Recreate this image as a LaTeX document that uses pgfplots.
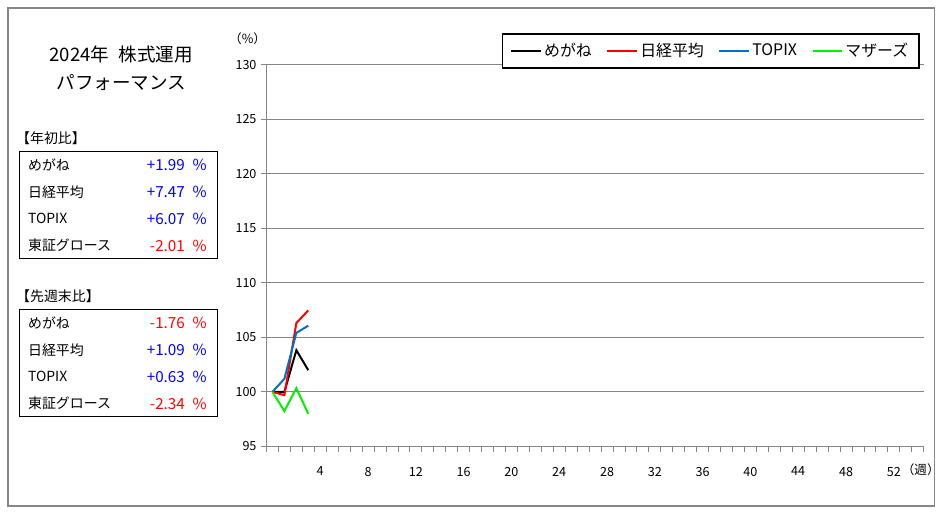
\documentclass[border=0pt]{standalone}
\usepackage{fontspec}
\setmainfont{Noto Sans CJK JP}
\usepackage{pgfplots}
\pgfplotsset{compat=1.18}
\definecolor{gridgray}{RGB}{134,134,134}
\definecolor{topixblue}{RGB}{0,112,192}
\definecolor{valblue}{RGB}{0,0,255}
\definecolor{valred}{RGB}{255,0,0}
\definecolor{lime}{RGB}{0,240,0}

\begin{document}
\begin{tikzpicture}
\begin{scope}[x=0.75pt,y=0.75pt]
\path (0,0) rectangle (944,518);
\draw[gridgray, line width=1.2pt] (8,9) rectangle (940,510);

% title and summary boxes
\node[font=\fontsize{14}{16}\selectfont] at (122,463) {2024年\hspace{0.5em}株式運用};
\node[font=\fontsize{14}{16}\selectfont] at (122,435) {パフォーマンス};

\begin{scope}[font=\fontsize{10.5}{12}\selectfont]
\node[anchor=west, inner sep=0pt] at (16,379) {【年初比】};
\draw[line width=0.9pt] (20,366) rectangle (219,258);
\node[anchor=west, inner sep=0pt] at (28,352) {めがね};
\node[anchor=west, inner sep=0pt] at (28,325) {日経平均};
\node[anchor=west, inner sep=0pt] at (28,298) {TOPIX};
\node[anchor=west, inner sep=0pt] at (28,271) {東証グロース};
\node[anchor=west, inner sep=0pt] at (16,220) {【先週末比】};
\draw[line width=0.9pt] (20,207) rectangle (219,99);
\node[anchor=west, inner sep=0pt] at (28,193) {めがね};
\node[anchor=west, inner sep=0pt] at (28,166) {日経平均};
\node[anchor=west, inner sep=0pt] at (28,139) {TOPIX};
\node[anchor=west, inner sep=0pt] at (28,112) {東証グロース};
\end{scope}

\begin{scope}[font=\fontsize{11.5}{13}\selectfont, anchor=east, inner sep=0pt]
\node[valblue] at (208,352) {+1.99\hspace{0.5em}\%};
\node[valblue] at (208,325) {+7.47\hspace{0.5em}\%};
\node[valblue] at (208,298) {+6.07\hspace{0.5em}\%};
\node[valred] at (208,271) {-2.01\hspace{0.5em}\%};
\node[valred] at (208,193) {-1.76\hspace{0.5em}\%};
\node[valblue] at (208,166) {+1.09\hspace{0.5em}\%};
\node[valblue] at (208,139) {+0.63\hspace{0.5em}\%};
\node[valred] at (208,112) {-2.34\hspace{0.5em}\%};
\end{scope}

\node[font=\fontsize{9.5}{11}\selectfont] at (249,479) {（\%）};
\node[font=\fontsize{9.5}{11}\selectfont] at (926,46) {（週）};
\end{scope}

\begin{axis}[
    at={(201pt,51.75pt)}, anchor=south west,
    scale only axis,
    width=495.75pt, height=288pt,
    xmin=-0.5, xmax=54.5,
    ymin=95, ymax=130,
    xtick={4,8,...,52},
    minor xtick={-0.5,0.5,...,54.5},
    ytick={95,100,...,130},
    axis x line*=bottom, axis y line*=left,
    axis line style={gridgray, line width=0.75pt, -},
    ymajorgrids,
    grid style={gridgray, line width=0.75pt},
    tick align=outside,
    major tick length=4pt,
    minor tick length=4pt,
    major x tick style={draw=none},
    minor x tick style={gridgray, line width=0.6pt},
    ytick style={gridgray, line width=0.75pt},
    tick label style={font=\fontsize{9.5}{11}\selectfont},
    /pgf/number format/assume math mode=true,
    xticklabel style={yshift=-8pt},
    legend columns=4,
    legend style={at={(axis description cs:0.994,1.083)}, anchor=north east,
        draw=black, line width=1.3pt, inner xsep=6pt, inner ysep=5pt,
        font=\fontsize{12}{14}\selectfont,
        /tikz/every even column/.append style={column sep=9pt}},
    legend image code/.code={\draw[#1] (0pt,0pt) -- (22pt,0pt);},
]
\addplot[black, line width=1.5pt] coordinates {(0,100) (1,100) (2,103.82) (3,101.99)};
\addlegendentry{めがね}
\addplot[valred, line width=1.5pt] coordinates {(0,100) (1,99.7) (2,106.31) (3,107.47)};
\addlegendentry{日経平均}
\addplot[topixblue, line width=1.5pt] coordinates {(0,100) (1,101.2) (2,105.41) (3,106.07)};
\addlegendentry{TOPIX}
\addplot[lime, line width=1.5pt] coordinates {(0,100) (1,98.24) (2,100.34) (3,97.99)};
\addlegendentry{マザーズ}
\end{axis}
\end{tikzpicture}
\end{document}
